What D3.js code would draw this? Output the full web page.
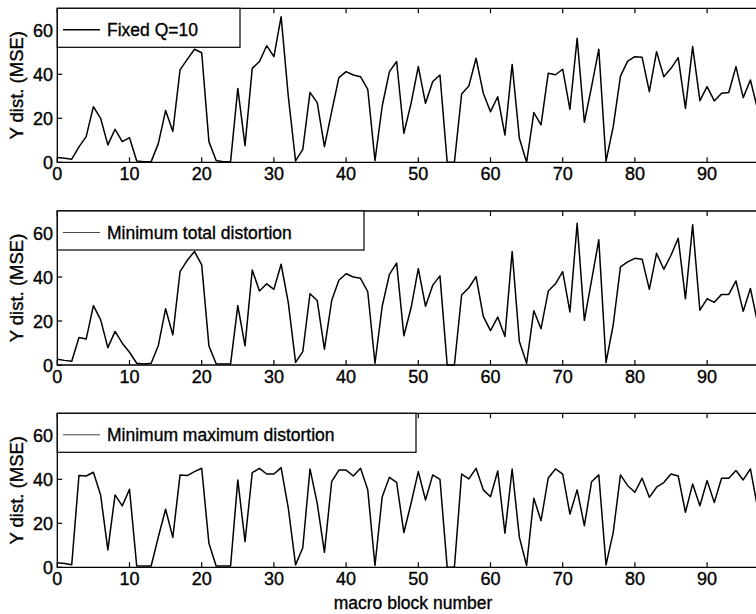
<!DOCTYPE html>
<html>
<head>
<meta charset="utf-8">
<script src="https://cdn.jsdelivr.net/npm/d3@7"></script>
<style>
  body { margin: 0; background: #fff; }
  svg { display: block; }
  text { font-family: "Liberation Sans", Arial, Helvetica, sans-serif; fill: #000; stroke: #000; stroke-width: 0.35; }
</style>
</head>
<body>
<svg width="756" height="614"></svg>
<script>
const blocks = d3.range(98);

const fixedQ = [2.2, 1.8, 1.4, 7, 11.7, 25.3, 20, 7.9, 15, 9.4,
  11.2, 0.6, 0.3, 0.3, 8.6, 23.5, 14, 42, 46.8, 51.4,
  49.8, 9.4, 0.8, 0.3, 0.3, 33.6, 7.6, 42.7, 45.8, 53,
  48, 66.2, 29.8, 0.6, 5.9, 31.8, 27.1, 7.1, 23, 38.5,
  41.2, 39.7, 38.9, 33.2, 0.8, 25.6, 41.2, 45.8, 13.2, 26.8,
  43.5, 26.8, 36.7, 39.7, 0, 0, 31, 34.7, 47.3, 31.4,
  23, 29.8, 12.4, 44.5, 10.9, 0, 22.6, 17, 40.5, 39.8,
  42.3, 24.1, 56.4, 18.2, 34.4, 51.4, 0.5, 16.2, 39.2, 46,
  48, 47.7, 32.1, 50.3, 38.9, 42.7, 47.6, 24.5, 52.6, 28,
  34.4, 27.9, 31.4, 31.7, 43.5, 29.4, 37.4, 24];

const minTotal = [2.6, 2.1, 1.7, 12.5, 11.8, 27, 20.6, 7.9, 15.3, 9.9,
  5.8, 0.8, 0.5, 0.8, 8.9, 25.6, 13.7, 42.4, 47.6, 51.6,
  45.5, 8.7, 0.6, 0.5, 0.5, 27, 8.7, 43.2, 33.6, 36.9,
  34.4, 45.8, 28.2, 1.2, 6.1, 32.4, 29.3, 7.2, 29.3, 38.5,
  41.5, 40, 39.4, 33.3, 0.8, 26.7, 41.2, 46.3, 13.3, 26,
  43.8, 26.7, 36.3, 40.5, 0, 0, 31.8, 35.1, 40.2, 22.1,
  15.6, 21.8, 13, 51.6, 10.7, 0.8, 24.7, 16.5, 33.6, 36.9,
  42.4, 24.1, 64.4, 20.3, 38.5, 56.9, 1.1, 18.3, 44.6, 46.9,
  48.5, 48.1, 34.4, 50.8, 43.5, 49.9, 57.6, 30.1, 63.7, 24.9,
  30.1, 28.5, 32.1, 32.1, 38.2, 24.4, 34.8, 19];

const minMax = [2.1, 1.7, 1.2, 41.7, 41.5, 43.2, 32.9, 7.9, 32.9, 27.9,
  35.5, 0.6, 0.6, 0.6, 13.9, 26.4, 13.6, 42, 41.7, 43.5,
  45, 10.9, 0.6, 0.6, 0.6, 39.7, 11.7, 43, 45, 42.4,
  42.4, 45.3, 26.8, 1.1, 8.9, 44.7, 29.1, 6.8, 38.9, 44.2,
  44.2, 41.5, 45, 35.2, 0.8, 32.1, 40.9, 38.6, 15.8, 29.1,
  43.5, 30.6, 42, 40, 0, 0, 42.4, 40.2, 45, 35.2,
  32.1, 43.8, 15.5, 44.7, 13.6, 0.8, 31.4, 21.2, 40.6, 44.7,
  42.4, 24.2, 35.2, 18.9, 38.9, 42, 1.1, 15.9, 42, 37.1,
  34.1, 40.5, 31.8, 36.4, 38.5, 42.4, 41.5, 25, 37.9, 28,
  39.4, 29.5, 40.5, 40.5, 44, 39.7, 44.7, 27];

const legendLabels = ["Fixed Q=10", "Minimum total distortion", "Minimum maximum distortion"];
const xTicks = [0, 10, 20, 30, 40, 50, 60, 70, 80, 90];
const yTicks = [0, 20, 40, 60];

const series = [fixedQ, minTotal, minMax];
const panelBottoms = [162.3, 365, 567.3];
const legendRight = [240, 364, 416];
const plotH = 154;
const left = 57.3;

const svg = d3.select("svg");

const x = d3.scaleLinear().domain([0, 100]).range([left, left + 722]);

series.forEach((vals, p) => {
  const bottom = panelBottoms[p];
  const top = bottom - plotH;
  const y = d3.scaleLinear().domain([0, 70]).range([bottom, top]);
  const g = svg.append("g");

  // frame: bottom, top, left (right side is off the page)
  g.append("path")
    .attr("d", `M${x(100)},${top}H${left}V${bottom}H${x(100)}`)
    .attr("fill", "none")
    .attr("stroke", "#000")
    .attr("stroke-width", 1.3);

  // inward ticks top and bottom
  g.selectAll(".tb")
    .data(xTicks)
    .join("path")
    .attr("d", (d) => `M${x(d)},${bottom}v-5M${x(d)},${top}v5`)
    .attr("stroke", "#000")
    .attr("stroke-width", 1.2);

  g.selectAll(".yt")
    .data(yTicks)
    .join("path")
    .attr("d", (d) => `M${left},${y(d)}h5`)
    .attr("stroke", "#000")
    .attr("stroke-width", 1.2);

  g.selectAll(".xl")
    .data(xTicks)
    .join("text")
    .attr("x", (d) => x(d))
    .attr("y", bottom + 18)
    .attr("text-anchor", "middle")
    .attr("font-size", 18)
    .text((d) => d);

  g.selectAll(".yl")
    .data(yTicks)
    .join("text")
    .attr("x", 53)
    .attr("y", (d) => y(d) + 6.5)
    .attr("text-anchor", "end")
    .attr("font-size", 18)
    .text((d) => d);

  g.append("text")
    .attr("transform", `translate(23,${(top + bottom) / 2}) rotate(-90)`)
    .attr("text-anchor", "middle")
    .attr("font-size", 18.5)
    .text("Y dist. (MSE)");

  const line = d3.line()
    .x((d, i) => x(blocks[i]))
    .y((d) => y(d));

  g.append("path")
    .datum(vals)
    .attr("d", line)
    .attr("fill", "none")
    .attr("stroke", "#000")
    .attr("stroke-width", 1.5)
    .attr("stroke-linejoin", "round");

  // legend box sits on top of the data
  g.append("rect")
    .attr("x", left)
    .attr("y", top)
    .attr("width", legendRight[p] - left)
    .attr("height", 39)
    .attr("fill", "#fff")
    .attr("stroke", "#000")
    .attr("stroke-width", 1.2);

  g.append("line")
    .attr("x1", 63).attr("x2", 100)
    .attr("y1", top + 21.5).attr("y2", top + 21.5)
    .attr("stroke", p === 0 ? "#000" : "#444")
    .attr("stroke-width", p === 0 ? 1.5 : 1);

  g.append("text")
    .attr("x", 107)
    .attr("y", top + 28)
    .attr("font-size", 17.5)
    .text(legendLabels[p]);
});

svg.append("text")
  .attr("x", 413)
  .attr("y", 609)
  .attr("text-anchor", "middle")
  .attr("font-size", 17.5)
  .text("macro block number");
</script>
</body>
</html>
